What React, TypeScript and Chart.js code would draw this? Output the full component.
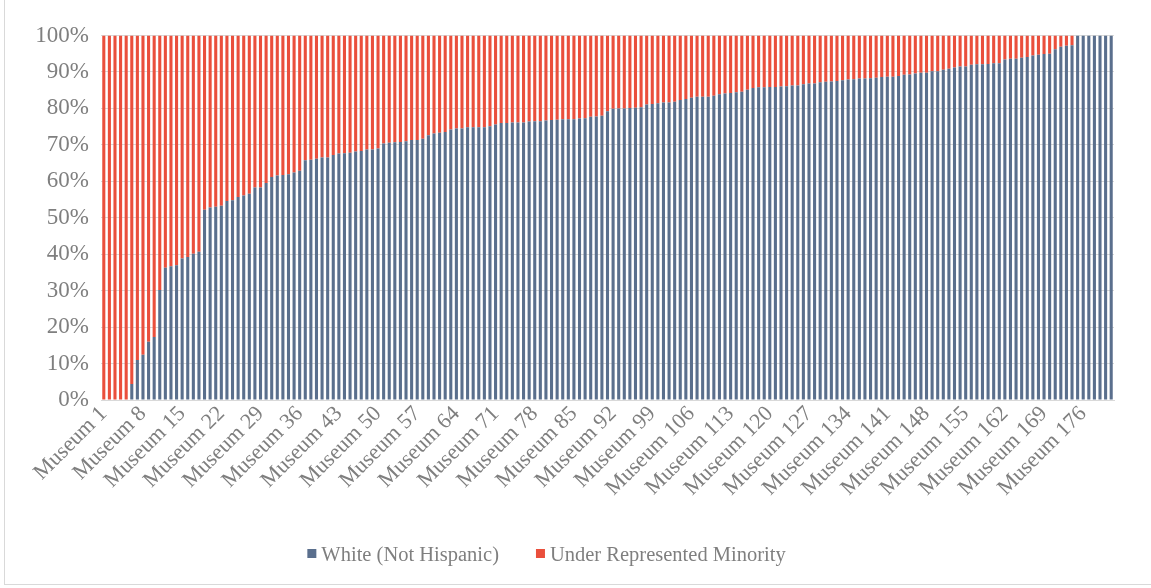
import React, { useEffect, useRef } from 'react';
import { Chart, registerables } from 'chart.js';

Chart.register(...registerables);

// Share of staff that is White (Not Hispanic), per museum, sorted ascending (%)
const whitePct: number[] = [
  0, 0, 0, 0, 0, 4.4, 11.0, 12.4, 16.0, 17.3, 30.2, 36.3, 36.7, 37.0, 38.8, 39.2, 40.1, 40.7, 52.2, 52.8,
  53.0, 53.3, 54.6, 54.8, 55.7, 56.1, 56.6, 58.3, 58.3, 59.5,
  61.2, 61.6, 61.7, 61.9, 62.4, 62.9, 65.8, 65.9, 66.2, 66.5, 66.5, 67.2, 67.6, 67.7, 67.8, 68.2, 68.3, 68.7,
  68.7, 69.0, 70.4, 70.6, 70.7, 70.8, 71.0, 71.3, 71.3, 71.7, 72.6, 73.1, 73.3, 73.5, 74.2, 74.5, 74.5, 74.8,
  74.8, 74.8,
  74.8, 75.1, 75.6, 76.0, 76.0, 76.1, 76.1, 76.1, 76.4, 76.5, 76.5, 76.7, 76.8, 76.9, 77.0, 77.0, 77.0, 77.2,
  77.3, 77.7, 77.8, 78.0, 79.2, 79.9, 80.0, 80.0, 80.1, 80.2, 80.3, 81.1, 81.2, 81.4, 81.6, 81.6, 81.8, 82.3, 82.6,
  82.9, 83.2, 83.2, 83.2, 83.5, 83.9, 84.1, 84.2, 84.4, 84.6, 85.1, 85.6, 85.8, 85.8, 85.9, 85.9, 86.0, 86.1,
  86.3, 86.3, 86.6, 86.8, 86.8, 87.2, 87.3, 87.4, 87.5, 87.7, 87.9, 88.0, 88.2, 88.2, 88.3, 88.4, 88.6, 88.7,
  88.7, 88.9, 89.2, 89.3, 89.6, 89.8, 89.8, 90.2, 90.2, 90.6, 90.9, 91.2, 91.5, 91.5, 92.0, 92.1, 92.1, 92.2,
  92.4, 92.4, 93.4, 93.6, 93.6, 93.9, 94.1, 94.5, 94.7, 94.9, 95.0, 96.2, 96.9, 97.2, 97.3, 100, 100, 100, 100,
  100, 100, 100,
];

// Category names
const categories: string[] = whitePct.map((_, i) => `Museum ${i + 1}`);

// Under Represented Minority share = remainder of 100%
const minorityPct: number[] = whitePct.map((v) => Math.round((100 - v) * 10) / 10);

const seriesNames = ['White (Not Hispanic)', 'Under Represented Minority'];
const yTickValues = [0, 10, 20, 30, 40, 50, 60, 70, 80, 90, 100];

const BLUE = '#5a6f8d';
const RED = '#ea4f3c';
const TEXT = '#7f7f7f';
const FONT = '"Liberation Serif", serif';

const legendPlugin = {
  id: 'customLegend',
  afterDraw(chart: any) {
    const ctx = chart.ctx as CanvasRenderingContext2D;
    ctx.save();
    ctx.font = `20.5px ${FONT}`;
    const box = 9;
    const gap = 5;
    const itemGap = 37;
    const items = chart.data.datasets.map((ds: any) => ({ text: ds.label, color: ds.backgroundColor }));
    const widths = items.map((it: any) => box + gap + ctx.measureText(it.text).width);
    const total = widths.reduce((a: number, b: number) => a + b, 0) + itemGap * (items.length - 1);
    let x = 546.5 - total / 2;
    items.forEach((it: any, i: number) => {
      ctx.fillStyle = it.color;
      ctx.fillRect(x, 549, box, box);
      ctx.fillStyle = TEXT;
      ctx.textBaseline = 'alphabetic';
      ctx.textAlign = 'left';
      ctx.fillText(it.text, x + box + gap, 560.5);
      x += widths[i] + itemGap;
    });
    ctx.restore();
  },
};

export default function App() {
  const canvasRef = useRef<HTMLCanvasElement | null>(null);

  useEffect(() => {
    document.body.style.margin = '0';
    const canvas = canvasRef.current;
    if (!canvas) return;
    const chart = new Chart(canvas, {
      type: 'bar',
      data: {
        labels: categories,
        datasets: [
          {
            label: seriesNames[0],
            data: whitePct,
            backgroundColor: BLUE,
            borderWidth: 0,
            barPercentage: 0.55,
            categoryPercentage: 1,
          },
          {
            label: seriesNames[1],
            data: minorityPct,
            backgroundColor: RED,
            borderWidth: 0,
            barPercentage: 0.55,
            categoryPercentage: 1,
          },
        ],
      },
      options: {
        responsive: false,
        animation: false,
        layout: { padding: { top: 35.5, right: 37, left: 0, bottom: 0 } },
        plugins: {
          legend: { display: false },
          tooltip: { enabled: false },
        },
        scales: {
          x: {
            stacked: true,
            grid: { display: false, drawTicks: false },
            border: { display: true, color: '#d9d9d9', width: 1 },
            ticks: {
              autoSkip: false,
              minRotation: 45,
              maxRotation: 45,
              padding: 1,
              color: TEXT,
              font: { family: FONT, size: 22 },
              callback: (_v: any, idx: number) => (idx % 7 === 0 ? categories[idx] : ''),
            },
            afterFit: (scale: any) => {
              scale.height = 188;
            },
          },
          y: {
            stacked: true,
            min: 0,
            max: 100,
            afterBuildTicks: (scale: any) => {
              scale.ticks = yTickValues.map((v) => ({ value: v }));
            },
            grid: { color: '#d9d9d9', lineWidth: 1, drawTicks: false },
            border: { display: false },
            ticks: {
              padding: 12,
              color: TEXT,
              font: { family: FONT, size: 23 },
              callback: (v: any) => `${v}%`,
            },
            afterFit: (scale: any) => {
              scale.width = 101;
            },
          },
        },
      },
      plugins: [legendPlugin],
    });
    return () => chart.destroy();
  }, []);

  return (
    <div style={{ position: 'relative', width: 1151, height: 588, overflow: 'hidden' }}>
      <canvas ref={canvasRef} width={1151} height={588} style={{ display: 'block' }} />
      <div
        style={{
          position: 'absolute',
          left: 4,
          top: -2,
          width: 1170,
          height: 587,
          border: '1px solid #d9d9d9',
          boxSizing: 'border-box',
          pointerEvents: 'none',
        }}
      />
    </div>
  );
}
